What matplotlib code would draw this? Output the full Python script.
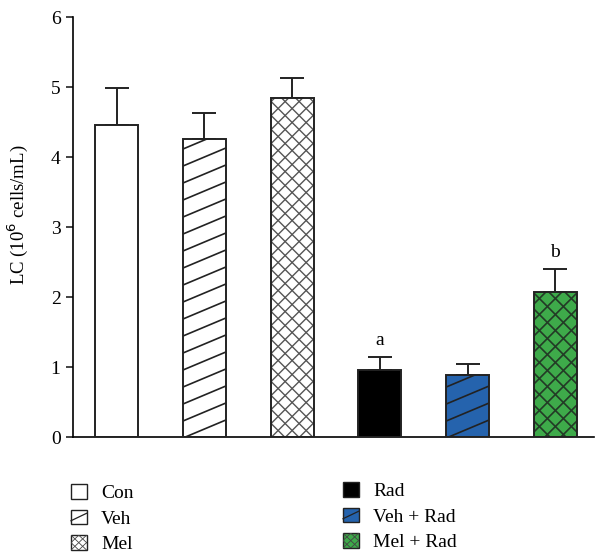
import matplotlib
matplotlib.use('Agg')
import numpy as np
import matplotlib.pyplot as plt
from matplotlib.patches import Patch, Rectangle
from matplotlib.lines import Line2D
from matplotlib.legend_handler import HandlerBase

plt.rcParams['font.family'] = ['Liberation Serif', 'DejaVu Serif']

# values
groups = ['Con', 'Veh', 'Mel', 'Rad', 'Veh + Rad', 'Mel + Rad']
means = [4.46, 4.26, 4.84, 0.96, 0.89, 2.07]
sems = [0.53, 0.37, 0.29, 0.18, 0.16, 0.33]
letters = ['', '', '', 'a', '', 'b']

fills = ['white', 'white', 'white', 'black', '#2563ad', '#3eaa4a']
# hatch style: None, 'diag' (shallow single lines) or 'cross' (diamonds)
styles = [None, 'diag', 'cross', None, 'diag', 'cross']
cross_step = {2: 14.0, 5: 16.0}     # diamond period in pixels
cross_color = {2: '#555555', 5: '#233a26'}
cross_lw = {2: 1.0, 5: 1.2}
edge = '#222222'

fig = plt.figure(figsize=(5.95, 5.6), dpi=100)
ax = fig.add_axes([73 / 595, 1 - 437 / 560, (594 - 73) / 595, 420 / 560])
ax.set_xlim(-0.497, 5.44)
ax.set_ylim(0, 6)

width = 0.49


def hatch_lines(patch, slope, step, color, lw):
    # lines drawn in pixel space, clipped to the bar
    x0, y0 = patch.get_x(), patch.get_y()
    (px0, py0), (px1, py1) = ax.transData.transform(
        [(x0, y0), (x0 + patch.get_width(), y0 + patch.get_height())])
    span = abs(slope) * (px1 - px0)
    inv = ax.transData.inverted()
    for k in np.arange(py0 - span - step, py1 + span + step, step):
        xs = np.array([px0 - 2, px1 + 2])
        ys = k + slope * (xs - px0) if slope > 0 else k + slope * (xs - px1)
        pts = inv.transform(np.column_stack([xs, ys]))
        ln, = ax.plot(pts[:, 0], pts[:, 1], color=color, lw=lw, zorder=2.2,
                      solid_capstyle='butt')
        ln.set_clip_path(patch)


x = list(range(len(groups)))
ax.errorbar(x, means, yerr=[[0] * len(sems), sems], fmt='none',
            ecolor=edge, elinewidth=1.4, capsize=8.5, capthick=1.4, zorder=1)
for i in x:
    bar = ax.bar(i, means[i], width=width, color=fills[i], edgecolor='none',
                 zorder=2)[0]
    if styles[i] == 'diag':
        hatch_lines(bar, 0.42, 17, edge, 1.2)
    elif styles[i] == 'cross':
        hatch_lines(bar, 1.0, cross_step[i], cross_color[i], cross_lw[i])
        hatch_lines(bar, -1.0, cross_step[i], cross_color[i], cross_lw[i])
    ax.bar(i, means[i], width=width, fill=False, edgecolor=edge,
           linewidth=1.4, zorder=3)
    if letters[i]:
        ax.text(i, means[i] + sems[i] + 0.12, letters[i], ha='center',
                va='bottom', fontsize=14)

ax.set_yticks(range(7))
ax.tick_params(axis='y', labelsize=14, length=5, width=1.2, color=edge, pad=4)
ax.set_xticks([])
for s in ['top', 'right']:
    ax.spines[s].set_visible(False)
ax.spines['left'].set_linewidth(1.2)
ax.spines['bottom'].set_linewidth(1.2)
ax.set_ylabel('LC (10$^{6}$ cells/mL)', fontsize=13.5)
ax.yaxis.set_label_coords(-0.082, 0.53)


class SwatchHandler(HandlerBase):
    def create_artists(self, legend, orig, xd, yd, w, h, fontsize, trans):
        i = groups.index(orig.get_label())
        arts = [Rectangle((-xd, -yd), w, h, facecolor=fills[i], edgecolor=edge,
                          lw=1.0, transform=trans)]
        if styles[i] == 'diag':
            arts.append(Line2D([-xd, -xd + w], [-yd + h * 0.25, -yd + h * 0.75],
                               color=edge, lw=0.9, transform=trans))
        elif styles[i] == 'cross':
            for f in np.linspace(-0.5, 0.5, 3):
                arts.append(Line2D([-xd + w * f, -xd + w * (1 + f)], [-yd, -yd + h],
                                   color='#444444', lw=0.6, transform=trans))
                arts.append(Line2D([-xd + w * f, -xd + w * (1 + f)], [-yd + h, -yd],
                                   color='#444444', lw=0.6, transform=trans))
            for a in arts[1:]:
                a.set_clip_path(arts[0])
        return arts


handles = [Patch(label=g) for g in groups]
common = dict(frameon=False, fontsize=14, handlelength=0.8, handleheight=0.8,
              handletextpad=0.75, labelspacing=0.38, borderpad=0,
              borderaxespad=0, loc='upper left',
              handler_map={Patch: SwatchHandler()})
fig.legend(handles=handles[:3], bbox_to_anchor=(71 / 595, 1 - 484 / 560), **common)
fig.legend(handles=handles[3:], bbox_to_anchor=(343 / 595, 1 - 482 / 560), **common)

fig.savefig('out.png', dpi=100)
